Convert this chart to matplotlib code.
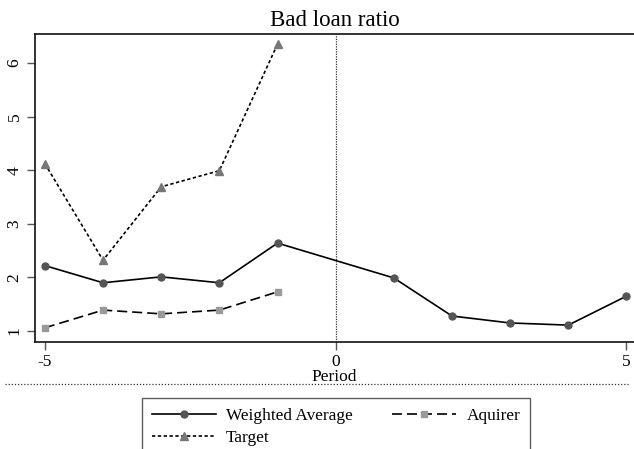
import matplotlib
matplotlib.use("Agg")
import matplotlib.pyplot as plt
from matplotlib.lines import Line2D

plt.rcParams['font.family'] = ['Liberation Serif', 'DejaVu Serif']

periods_wa = [-5, -4, -3, -2, -1, 1, 2, 3, 4, 5]
weighted_avg = [2.22, 1.90, 2.01, 1.90, 2.64, 1.99, 1.28, 1.15, 1.11, 1.65]
periods_pre = [-5, -4, -3, -2, -1]
aquirer = [1.06, 1.39, 1.32, 1.39, 1.73]
target = [4.12, 2.32, 3.69, 3.99, 6.35]
xticks = [-5, 0, 5]
xticklabels = ['-5', '0', '5']
yticks = [1, 2, 3, 4, 5, 6]
yticklabels = ['1', '2', '3', '4', '5', '6']

fig = plt.figure(figsize=(6.34, 4.49), dpi=100)
ax = fig.add_axes([35/634, 1-342/449, 1-35/634, (342-34)/449])

l1, = ax.plot(periods_wa, weighted_avg, '-', color='black', lw=1.2,
              marker='o', ms=5, mfc='#555555', mec='#555555', label='Weighted Average')
l2, = ax.plot(periods_pre, aquirer, color='black', lw=1.2, dashes=(6, 3),
              marker='s', ms=5, mfc='#999999', mec='#999999', label='Aquirer')
l3, = ax.plot(periods_pre, target, color='black', lw=1.2, dashes=(2, 1.5),
              marker='^', ms=5.5, mfc='#777777', mec='#777777', label='Target')

ax.axvline(0, color='#333333', lw=0.9, ls=(0, (1, 1)))

ax.set_xlim(-5.17, 5.13)
ax.set_ylim(0.795, 6.54)
ax.set_xticks(xticks)
ax.set_xticklabels(xticklabels, fontsize=12.5)
ax.set_yticks(yticks)
ax.set_yticklabels(yticklabels, fontsize=12.5, rotation=90, va='center')
ax.tick_params(axis='both', direction='out', length=6, width=1, color='#555555', pad=3)
ax.set_xlabel('Period', fontsize=12.5, labelpad=-1)
ax.set_title('Bad loan ratio', fontsize=16.5, pad=6)

ax.spines['right'].set_visible(False)
for s in ['left', 'top', 'bottom']:
    ax.spines[s].set_linewidth(1.2)
    ax.spines[s].set_color('#111111')

fig.add_artist(Line2D([5/634, 630/634], [1-384/449, 1-384/449],
                      transform=fig.transFigure, color='#333333', lw=0.9, ls=(0, (1, 1.5))))

leg = fig.legend(handles=[l1, l3, l2], labels=['Weighted Average', 'Target', 'Aquirer'],
                 ncol=2, loc='upper center', bbox_to_anchor=(336/634, 1-398/449),
                 borderaxespad=0, fontsize=12.4, handlelength=3.7, columnspacing=2.3,
                 frameon=True, fancybox=False, edgecolor='#333333', borderpad=0.55,
                 labelspacing=0.4, handletextpad=0.6)
leg.get_frame().set_linewidth(1.0)

fig.savefig('out.png', dpi=100)
